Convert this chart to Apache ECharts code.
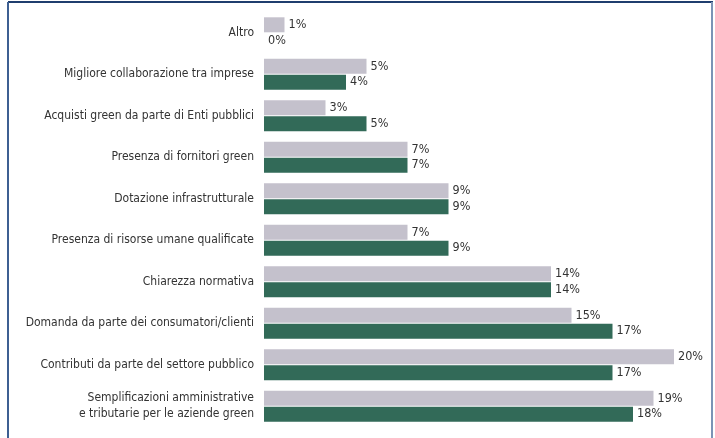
<!DOCTYPE html>
<html>
<head>
<meta charset="utf-8">
<script src="https://cdn.jsdelivr.net/npm/echarts@6/dist/echarts.min.js"></script>
<style>
  html, body { margin: 0; padding: 0; background: #ffffff; }
  #chart { width: 715px; height: 438px; }
</style>
</head>
<body>
<div id="chart"></div>
<script>
// Fattori che favoriscono la transizione green (quote percentuali)
const categories = [
  'Altro',
  'Migliore collaborazione tra imprese',
  'Acquisti green da parte di Enti pubblici',
  'Presenza di fornitori green',
  'Dotazione infrastrutturale',
  'Presenza di risorse umane qualificate',
  'Chiarezza normativa',
  'Domanda da parte dei consumatori/clienti',
  'Contributi da parte del settore pubblico',
  'Semplificazioni amministrative\ne tributarie per le aziende green'
];
const seriesGrey = [1, 5, 3, 7, 9, 7, 14, 15, 20, 19];
const seriesGreen = [0, 4, 5, 7, 9, 9, 14, 17, 17, 18];

const FONT = '"DejaVu Sans Condensed", "Liberation Sans Narrow", sans-serif';

const chart = echarts.init(document.getElementById('chart'), null, { renderer: 'canvas' });

const valueLabel = {
  show: true,
  position: 'right',
  distance: 4,
  formatter: p => p.value + '%',
  fontFamily: FONT,
  fontSize: 12.5,
  color: '#333333'
};

chart.setOption({
  animation: false,
  backgroundColor: '#ffffff',
  grid: { left: 264, right: 41, top: 12, bottom: 11, containLabel: false, outerBoundsMode: 'none' },
  xAxis: {
    type: 'value',
    min: 0,
    max: 20,
    show: false
  },
  yAxis: {
    type: 'category',
    data: categories,
    inverse: true,
    axisLine: { show: false },
    axisTick: { show: false },
    axisLabel: {
      margin: 10,
      fontFamily: FONT,
      fontSize: 12,
      lineHeight: 16,
      color: '#333333',
      align: 'right'
    }
  },
  series: [
    {
      type: 'bar',
      data: seriesGrey,
      barWidth: 15,
      barGap: '6%',
      itemStyle: { color: '#c4c1cc' },
      label: valueLabel
    },
    {
      type: 'bar',
      data: seriesGreen,
      barWidth: 15,
      barGap: '6%',
      itemStyle: { color: '#326a58' },
      label: valueLabel
    }
  ],
  graphic: [
    { type: 'line', shape: { x1: 8, y1: 2, x2: 713, y2: 2 }, style: { stroke: '#1f3d6e', lineWidth: 2 } },
    { type: 'line', shape: { x1: 8, y1: 2, x2: 8, y2: 438 }, style: { stroke: '#3d5f92', lineWidth: 2 } },
    { type: 'line', shape: { x1: 712, y1: 2, x2: 712, y2: 438 }, style: { stroke: '#7b93b5', lineWidth: 2 } }
  ]
});
</script>
</body>
</html>
